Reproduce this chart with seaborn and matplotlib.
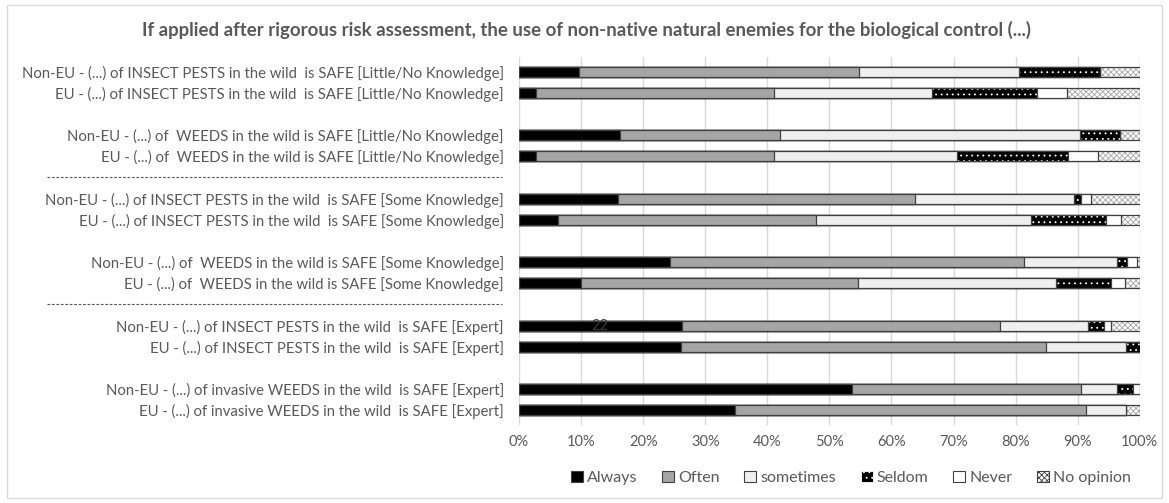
import matplotlib
matplotlib.use("Agg")
import matplotlib.pyplot as plt
import seaborn as sns
import numpy as np
from matplotlib.patches import Patch, Rectangle
from matplotlib.transforms import blended_transform_factory

# rows, top to bottom
labels = [
    "Non-EU - (...) of INSECT PESTS in the wild  is SAFE [Little/No Knowledge]",
    "EU - (...) of INSECT PESTS in the wild  is SAFE [Little/No Knowledge]",
    "Non-EU - (...) of  WEEDS in the wild is SAFE [Little/No Knowledge]",
    "EU - (...) of  WEEDS in the wild is SAFE [Little/No Knowledge]",
    "Non-EU - (...) of INSECT PESTS in the wild  is SAFE [Some Knowledge]",
    "EU - (...) of INSECT PESTS in the wild  is SAFE [Some Knowledge]",
    "Non-EU - (...) of  WEEDS in the wild is SAFE [Some Knowledge]",
    "EU - (...) of  WEEDS in the wild is SAFE [Some Knowledge]",
    "Non-EU - (...) of INSECT PESTS in the wild  is SAFE [Expert]",
    "EU - (...) of INSECT PESTS in the wild  is SAFE [Expert]",
    "Non-EU - (...) of invasive WEEDS in the wild  is SAFE [Expert]",
    "EU - (...) of invasive WEEDS in the wild  is SAFE [Expert]",
]
rows = [0, 1, 3, 4, 6, 7, 9, 10, 12, 13, 15, 16]

always    = [9.6, 2.8, 16.2, 2.8, 16.0, 6.3, 24.4, 10.0, 26.3, 26.1, 53.7, 34.8]
often     = [45.2, 38.3, 25.8, 38.3, 47.8, 41.5, 57.0, 44.6, 51.2, 58.8, 36.8, 56.5]
sometimes = [25.8, 25.4, 48.3, 29.4, 25.6, 34.7, 15.0, 31.9, 14.2, 12.9, 5.9, 6.5]
seldom    = [13.0, 17.0, 6.5, 17.9, 1.1, 12.1, 1.6, 8.9, 2.5, 2.2, 2.5, 0.0]
never     = [0.0, 4.8, 0.0, 4.8, 1.6, 2.3, 1.5, 2.3, 1.1, 0.0, 1.1, 0.0]
no_opinion = [6.4, 11.7, 3.2, 6.8, 7.9, 3.1, 0.5, 2.3, 4.7, 0.0, 0.0, 2.2]

series = ["Always", "Often", "sometimes", "Seldom", "Never", "No opinion"]
values = [always, often, sometimes, seldom, never, no_opinion]
# face colour, hatch, hatch colour
styles = {
    "Always": ("#000000", None, "#000000"),
    "Often": ("#a5a5a5", None, "#a5a5a5"),
    "sometimes": ("#efefef", None, "#efefef"),
    "Seldom": ("#000000", "...", "#ffffff"),
    "Never": ("#ffffff", None, "#ffffff"),
    "No opinion": ("#ffffff", "xxxxxx", "#a6a6a6"),
}
edge = "#404040"
txt = "#595959"

sns.set_theme(style="white")
plt.rcParams["font.family"] = ["Lato", "DejaVu Sans"]
plt.rcParams["hatch.linewidth"] = 0.6

fig = plt.figure(figsize=(11.69, 5.03), dpi=100)
ax = fig.add_axes([0.444, 0.155, 0.531, 0.732])

cum = np.cumsum(np.array(values), axis=0)
for i in range(len(series) - 1, -1, -1):
    face, hatch, hcol = styles[series[i]]
    sns.barplot(x=cum[i], y=rows, orient="h", native_scale=True, width=0.47,
                color=face, saturation=1, errorbar=None, hatch=hatch,
                edgecolor=hcol, linewidth=0, ax=ax)
    sns.barplot(x=cum[i], y=rows, orient="h", native_scale=True, width=0.47,
                color=edge, fill=False, errorbar=None, linewidth=0.9, ax=ax)

ax.set_xlim(0, 100)
ax.set_ylim(16.7, -0.7)
ax.set_xticks(range(0, 101, 10))
ax.set_xticklabels([f"{v}%" for v in range(0, 101, 10)], color=txt, fontsize=10.5)
ax.set_yticks(rows)
ax.set_yticklabels(labels, color=txt, fontsize=10.75)
ax.tick_params(axis="both", length=0)
ax.tick_params(axis="y", pad=11)
ax.tick_params(axis="x", pad=7)
ax.set_xlabel("")
ax.set_ylabel("")
ax.xaxis.grid(True, color="#d9d9d9", linewidth=1)
ax.set_axisbelow(True)
for s in ax.spines.values():
    s.set_visible(False)

# dashed separators between knowledge groups
tr = blended_transform_factory(fig.transFigure, ax.transData)
for yy in [5, 11]:
    ax.plot([47 / 1169, 502 / 1169], [yy, yy], transform=tr, clip_on=False,
            color=txt, linewidth=0.8, linestyle=(0, (2.5, 1.5)))

ax.text(13, 12, "22", color="#3a3a3a", fontsize=10.5, va="center", ha="center")

fig.suptitle("If applied after rigorous risk assessment, the use of non-native natural enemies for the biological control (...)",
             x=0.502, y=0.94, va="center", fontsize=13.4, fontweight="bold", color=txt)

handles = []
for s in series:
    face, hatch, hcol = styles[s]
    if hatch == "...":
        handles.append(Patch(facecolor=face, edgecolor="#ffffff", hatch=hatch, linewidth=0.6))
    else:
        handles.append(Patch(facecolor=face, edgecolor=edge, hatch=hatch, linewidth=0.8))
fig.legend(handles, series, loc="center", bbox_to_anchor=(0.728, 0.05), ncol=6,
           frameon=False, fontsize=11.5, handlelength=0.75, handleheight=0.75,
           handletextpad=0.25, columnspacing=1.55, labelcolor=txt)

fig.add_artist(Rectangle((0.006, 0.01), 0.988, 0.98, transform=fig.transFigure,
                         fill=False, edgecolor="#d9d9d9", linewidth=1))

fig.savefig("out.png", dpi=100)
